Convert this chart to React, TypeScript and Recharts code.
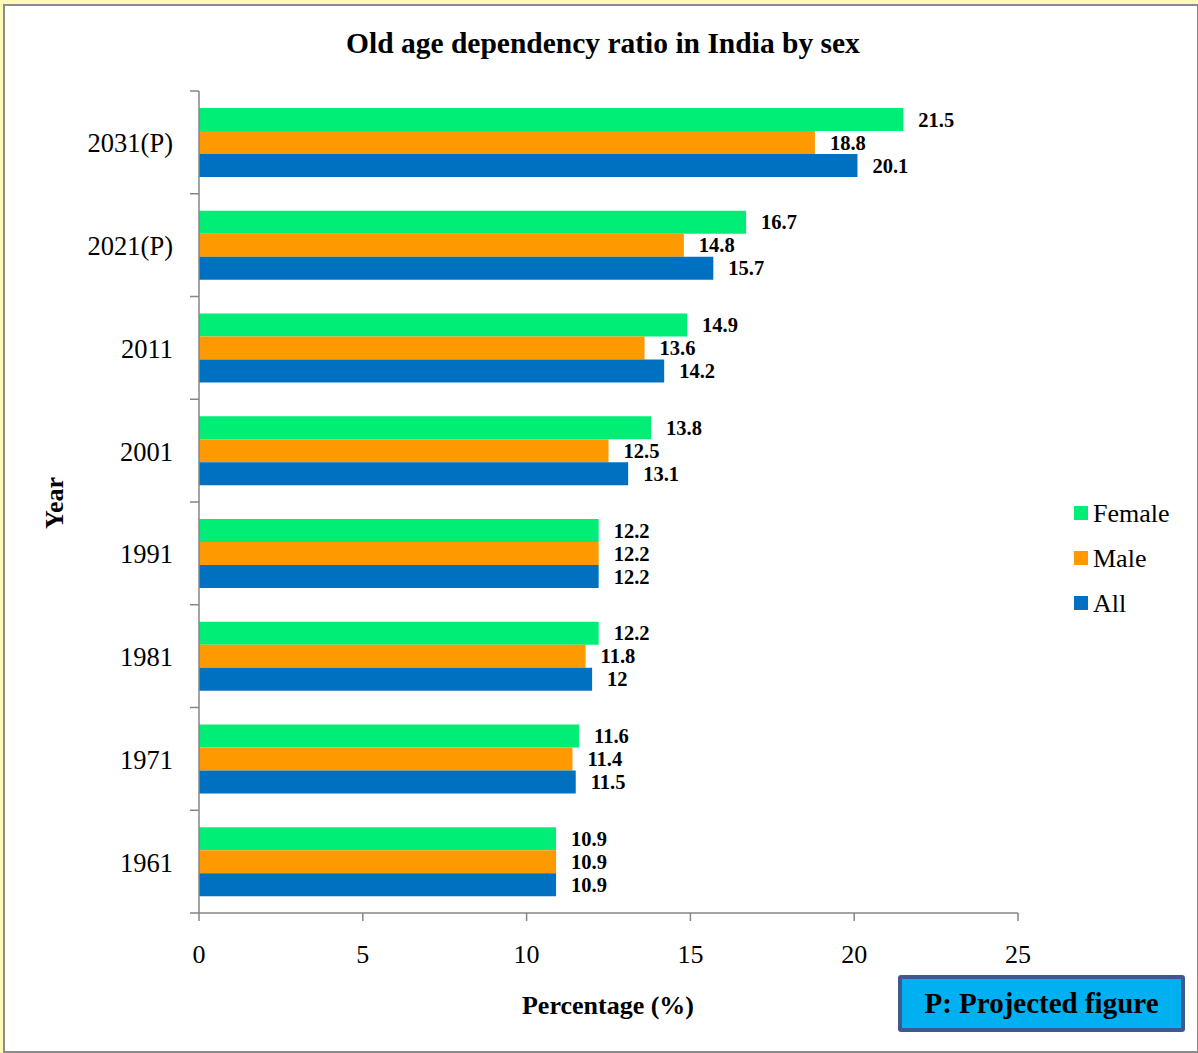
import React from "react";
import { BarChart, Bar, XAxis, YAxis, LabelList } from "recharts";

const categories = ["2031(P)", "2021(P)", "2011", "2001", "1991", "1981", "1971", "1961"];
const femaleValues = [21.5, 16.7, 14.9, 13.8, 12.2, 12.2, 11.6, 10.9];
const maleValues = [18.8, 14.8, 13.6, 12.5, 12.2, 11.8, 11.4, 10.9];
const allValues = [20.1, 15.7, 14.2, 13.1, 12.2, 12, 11.5, 10.9];
const xTicks = [0, 5, 10, 15, 20, 25];

const seriesNames = ["Female", "Male", "All"];
const seriesColors = ["#00EE76", "#FF9900", "#0070C0"];

const data = categories.map((year, i) => ({
  year,
  Female: femaleValues[i],
  Male: maleValues[i],
  All: allValues[i],
}));

const W = 1198;
const H = 1053;
const PLOT_TOP = 91;
const PLOT_BOTTOM = 913;
const BAND = (PLOT_BOTTOM - PLOT_TOP) / categories.length;
const FONT = "'Liberation Serif', 'Times New Roman', serif";
const AXIS = "#868686";

function YTick(props: any) {
  const { x, y, payload, index } = props;
  const half = BAND / 2;
  return (
    <g>
      <text
        x={x - 26}
        y={y + 1}
        textAnchor="end"
        dominantBaseline="central"
        fontFamily={FONT}
        fontSize={26.5}
        fill="#000"
      >
        {payload.value}
      </text>
      <line x1={x - 9} x2={x} y1={y - half} y2={y - half} stroke={AXIS} strokeWidth={1.5} />
      {index === categories.length - 1 && (
        <line x1={x - 9} x2={x} y1={y + half} y2={y + half} stroke={AXIS} strokeWidth={1.5} />
      )}
    </g>
  );
}

export default function App() {
  return (
    <div style={{ position: "absolute", left: 0, top: 0, width: W, height: H, background: "#FFF9B8" }}>
      <div
        style={{
          position: "absolute",
          left: 3,
          top: 4,
          width: 1192,
          height: 1045,
          border: "2px solid #8C8C8C",
          background: "#fff",
        }}
      />
      <div style={{ position: "absolute", left: 0, top: 0 }}>
        <BarChart
          width={W}
          height={H}
          data={data}
          layout="vertical"
          margin={{ top: PLOT_TOP, right: 180, bottom: 100, left: 99 }}
          barCategoryGap="16.5%"
          barGap={0}
        >
          <XAxis
            type="number"
            domain={[0, 25]}
            ticks={xTicks}
            height={40}
            tickSize={8}
            tickMargin={24}
            axisLine={{ stroke: AXIS, strokeWidth: 1.5 }}
            tickLine={{ stroke: AXIS, strokeWidth: 1.5 }}
            tick={{ fontSize: 26, fill: "#000", fontFamily: FONT }}
          />
          <YAxis
            type="category"
            dataKey="year"
            width={100}
            tickSize={0}
            tickMargin={0}
            tickLine={false}
            axisLine={{ stroke: AXIS, strokeWidth: 1.5 }}
            tick={<YTick />}
            interval={0}
          />
          {seriesNames.map((name, i) => (
            <Bar key={name} dataKey={name} fill={seriesColors[i]} isAnimationActive={false}>
              <LabelList
                dataKey={name}
                position="right"
                offset={15}
                fill="#000"
                fontFamily={FONT}
                fontSize={20.5}
                fontWeight="bold"
              />
            </Bar>
          ))}
        </BarChart>
      </div>
      <svg width={W} height={H} style={{ position: "absolute", left: 0, top: 0, pointerEvents: "none" }}>
        <text x={346} y={53} fontFamily={FONT} fontSize={29.5} fontWeight="bold" fill="#000">
          Old age dependency ratio in India by sex
        </text>
        <text
          x={608}
          y={1014}
          textAnchor="middle"
          fontFamily={FONT}
          fontSize={26}
          fontWeight="bold"
          fill="#000"
        >
          Percentage (%)
        </text>
        <text
          x={63}
          y={503}
          textAnchor="middle"
          transform="rotate(-90 63 503)"
          fontFamily={FONT}
          fontSize={26}
          fontWeight="bold"
          fill="#000"
        >
          Year
        </text>
        {seriesNames.map((name, i) => (
          <g key={name}>
            <rect x={1074} y={506 + i * 45} width={14} height={14} fill={seriesColors[i]} />
            <text x={1093} y={522 + i * 45} fontFamily={FONT} fontSize={26} fill="#000">
              {name}
            </text>
          </g>
        ))}
      </svg>
      <div
        style={{
          position: "absolute",
          left: 898,
          top: 975,
          width: 279,
          height: 49,
          border: "4px solid #3B5B8C",
          borderRadius: 3,
          background: "#00B0F0",
          display: "flex",
          alignItems: "center",
          justifyContent: "center",
          fontFamily: FONT,
          fontWeight: "bold",
          fontSize: 29,
          color: "#000",
        }}
      >
        P: Projected figure
      </div>
    </div>
  );
}
